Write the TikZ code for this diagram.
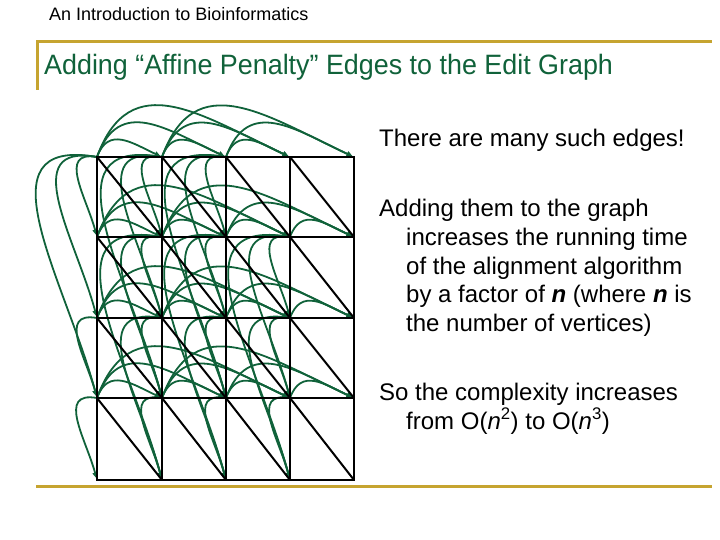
\documentclass[tikz,border=0pt]{standalone}
\usepackage{fontspec}
\setmainfont{Liberation Sans}
\usepackage{xcolor}
\definecolor{ColBlack}{RGB}{0,0,0}
\definecolor{ColGold}{RGB}{198,164,48}
\definecolor{ColGreen}{RGB}{16,98,58}
\usepackage{tikz}
\usetikzlibrary{arrows.meta}
\tikzstyle{Rule}=[ColGold,line width=3pt]
\tikzstyle{GridLine}=[ColBlack,line width=2.6pt,line cap=rect]
\tikzstyle{Diagonal}=[ColBlack,line width=2pt]
\tikzstyle{Affine}=[ColGreen,line width=1.8pt,shorten >=1.5pt,
    -{Triangle[length=6pt,width=5pt]}]
\tikzstyle{Across}=[Affine,out=70,in=155,looseness=1.3]
\tikzstyle{Down}=[Affine,out=170,in=105,looseness=1.3]
\tikzstyle{Bullet}=[anchor=base west,inner sep=0pt,
    font=\fontsize{24}{28.8}\selectfont]
\tikzstyle{Heading}=[anchor=base west,inner sep=0pt,ColGreen,
    font=\fontsize{28}{33}\selectfont]
\tikzstyle{Course}=[anchor=base west,inner sep=0pt,
    font=\fontsize{18}{21}\selectfont]
\newcommand{\Var}{\textbf{\textit{n}}}

\begin{document}
\begin{tikzpicture}[x=1pt,y=1pt]
        \useasboundingbox(0,0)rectangle(720,-540);
        % slide frame
        \node[Course](Header)at(49,-21){An Introduction to Bioinformatics};
        \node[Heading](Title)at(44,-75)
            {\scalebox{0.96}[1]{Adding “Affine Penalty” Edges to the Edit Graph}};
        \coordinate(RA)at(37,-90);
        \coordinate(RB)at(37,-42);
        \coordinate(RC)at(712,-42);
        \coordinate(RD)at(36,-486);
        \coordinate(RE)at(712,-486);
        \draw[Rule](RA)--(RB)--(RC);
        \draw[Rule](RD)--(RE);
        % vertices of the edit graph
        \foreach \c/\x in {0/97,1/162,2/226,3/290,4/354}
            \foreach \r/\y in {0/157,1/237,2/318,3/398,4/480}
                \coordinate(V-\c-\r)at(\x,-\y);
        % affine penalty edges: top row and left column
        \foreach \a/\b in {0/1,0/2,0/3,1/2,1/3,1/4,2/3,2/4}
            \draw[Across](V-\a-0)to(V-\b-0);
        \foreach \a/\b in {0/1,0/2,0/3,2/3,3/4}
            \draw[Down](V-0-\a)to(V-0-\b);
        % affine penalty edges: inside the grid
        \foreach \c in {0,...,3}
            \foreach \r in {0,...,3}
                \foreach \d in {1,2,3}{
                    \pgfmathtruncatemacro{\cc}{\c+\d}
                    \pgfmathtruncatemacro{\rr}{\r+\d}
                    \ifnum\r>0 \ifnum\cc<5
                        \draw[Across](V-\c-\r)to(V-\cc-\r);
                    \fi\fi
                    \ifnum\c>0 \ifnum\rr<5
                        \ifnum\numexpr\c*10+\r\relax=30 \else
                            \draw[Down](V-\c-\r)to(V-\c-\rr);
                        \fi
                    \fi\fi
                }
        % grid and diagonals
        \foreach \r in {0,...,4}
            \draw[GridLine](V-0-\r)--(V-4-\r);
        \foreach \c in {0,...,4}
            \draw[GridLine](V-\c-0)--(V-\c-4);
        \foreach \c in {0,...,3}
            \foreach \r in {0,...,3}{
                \pgfmathtruncatemacro{\cc}{\c+1}
                \pgfmathtruncatemacro{\rr}{\r+1}
                \draw[Diagonal](V-\c-\r)--(V-\cc-\rr);
            }
        % text
        \node[Bullet](Many)at(379,-147){There are many such edges!};
        \node[Bullet](AddA)at(379,-216){Adding them to the graph};
        \node[Bullet](AddB)at(406,-245){increases the running time};
        \node[Bullet](AddC)at(406,-274){of the alignment algorithm};
        \node[Bullet](AddD)at(406,-302)
            {by a factor of \Var{} (where \Var{} is};
        \node[Bullet](AddE)at(406,-331){the number of vertices)};
        \node[Bullet](CompA)at(379,-400){So the complexity increases};
        \node[Bullet](CompB)at(406,-429)
            {from O(\textit{n}\textsuperscript{2}) to O(\textit{n}\textsuperscript{3})};
    \end{tikzpicture}
\end{document}
